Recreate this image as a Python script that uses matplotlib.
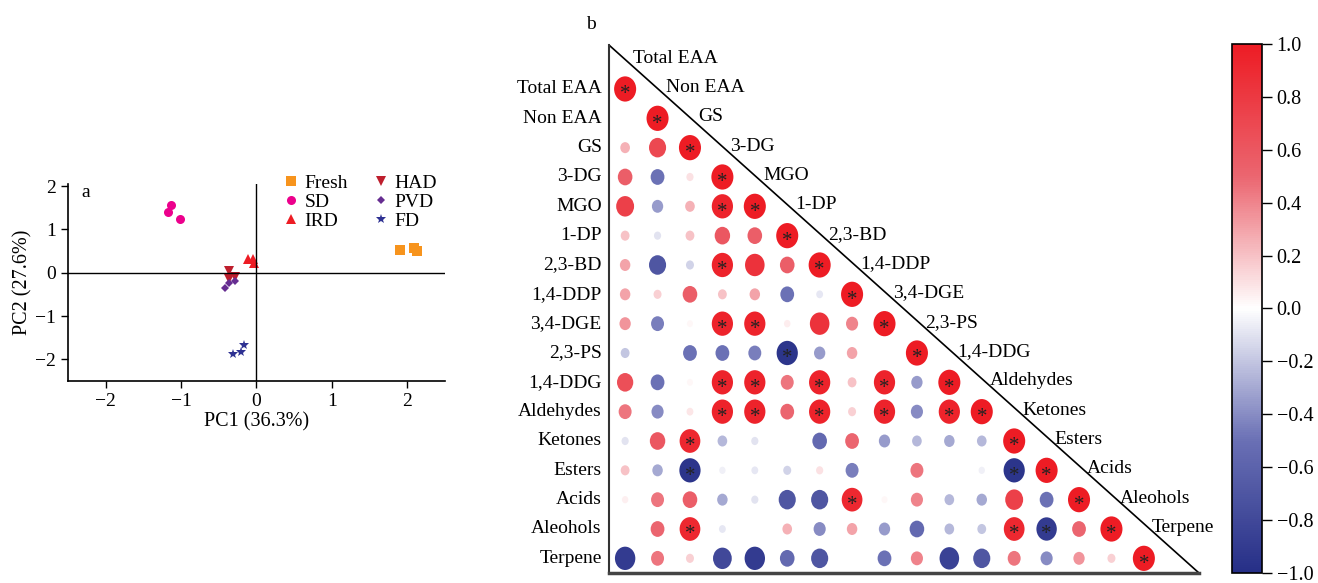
import matplotlib
matplotlib.use("Agg")
import matplotlib.pyplot as plt
from matplotlib.patches import Ellipse
from matplotlib.colors import LinearSegmentedColormap, Normalize
import matplotlib.colorbar as mcolorbar
from matplotlib.ticker import FuncFormatter

plt.rcParams['font.family'] = ['Liberation Serif', 'DejaVu Serif']
plt.rcParams['font.size'] = 14

# ---- panel a: PCA scores ----
groups = ['Fresh', 'SD', 'IRD', 'HAD', 'PVD', 'FD']
pc1 = {
    'Fresh': [1.91, 2.09, 2.13],
    'SD': [-1.18, -1.13, -1.02],
    'IRD': [-0.11, -0.04, -0.03],
    'HAD': [-0.36, -0.37, -0.28],
    'PVD': [-0.42, -0.37, -0.29],
    'FD': [-0.31, -0.21, -0.16],
}
pc2 = {
    'Fresh': [0.52, 0.56, 0.51],
    'SD': [1.41, 1.56, 1.25],
    'IRD': [0.31, 0.32, 0.22],
    'HAD': [0.04, -0.14, -0.09],
    'PVD': [-0.36, -0.23, -0.20],
    'FD': [-1.88, -1.82, -1.67],
}
markers = {'Fresh': 's', 'SD': 'o', 'IRD': '^', 'HAD': 'v', 'PVD': 'D', 'FD': '*'}
colors = {'Fresh': '#F7941D', 'SD': '#EC008C', 'IRD': '#ED1C24',
          'HAD': '#BE1E2D', 'PVD': '#662D91', 'FD': '#2E3192'}
msize = {'Fresh': 6.5, 'SD': 6.5, 'IRD': 6.5, 'HAD': 6.5, 'PVD': 4.5, 'FD': 7}

# ---- panel b: correlation matrix (lower triangle, row by row) ----
names = ['Total EAA', 'Non EAA', 'GS', '3-DG', 'MGO', '1-DP', '2,3-BD', '1,4-DDP',
         '3,4-DGE', '2,3-PS', '1,4-DDG', 'Aldehydes', 'Ketones', 'Esters', 'Acids',
         'Aleohols', 'Terpene']
corr = [
    [1.0],
    [0.0, 1.0],
    [0.25, 0.70, 1.0],
    [0.55, -0.50, 0.10, 1.0],
    [0.75, -0.35, 0.25, 0.95, 1.0],
    [0.20, -0.10, 0.20, 0.60, 0.55, 1.0],
    [0.30, -0.70, -0.15, 0.95, 0.85, 0.55, 1.0],
    [0.30, 0.15, 0.55, 0.20, 0.30, -0.50, -0.08, 1.0],
    [0.35, -0.45, 0.03, 0.95, 0.95, 0.06, 0.85, 0.40, 1.0],
    [-0.20, 0.0, -0.50, -0.50, -0.45, -0.95, -0.35, 0.30, 0.0, 1.0],
    [0.65, -0.50, 0.03, 0.95, 0.95, 0.45, 0.95, 0.20, 0.95, -0.35, 1.0],
    [0.45, -0.40, 0.08, 0.95, 0.95, 0.50, 0.95, 0.15, 0.95, -0.40, 0.95, 1.0],
    [-0.10, 0.60, 0.92, -0.25, -0.10, 0.0, -0.55, 0.50, -0.35, -0.25, -0.30, -0.25, 1.0],
    [0.20, -0.30, -0.95, -0.05, -0.08, -0.15, 0.10, -0.45, 0.0, 0.45, 0.0, -0.05, -0.95, 1.0],
    [0.05, 0.45, 0.55, -0.30, -0.10, -0.70, -0.70, 0.92, 0.03, 0.40, -0.25, -0.30, 0.75, -0.50, 1.0],
    [0.0, 0.50, 0.92, -0.08, 0.0, 0.25, -0.40, 0.30, -0.35, -0.55, -0.25, -0.20, 0.92, -0.90, 0.50, 1.0],
    [-0.90, 0.45, 0.15, -0.80, -0.90, -0.55, -0.70, 0.0, -0.50, 0.40, -0.85, -0.70, 0.45, -0.40, 0.35, 0.15, 1.0],
]
# significant pairs (row, col), 0-based, besides the diagonal
signif = [(4, 3), (6, 3), (8, 3), (8, 4), (9, 5),
          (10, 3), (10, 4), (10, 6), (10, 8),
          (11, 3), (11, 4), (11, 6), (11, 8), (11, 10),
          (12, 2), (13, 2), (13, 12), (14, 7), (15, 2), (15, 12), (15, 13)]
cbar_ticks = [-1.0, -0.8, -0.6, -0.4, -0.2, 0.0, 0.2, 0.4, 0.6, 0.8, 1.0]

cmap = LinearSegmentedColormap.from_list(
    'bwr_corr', ['#262F87', '#6A70B5', '#FFFFFF', '#EB6670', '#ED1C24'], N=256)
norm = Normalize(-1, 1)

fig = plt.figure(figsize=(13.18, 5.83), dpi=100)

# ---------------- panel a ----------------
ax = fig.add_axes([0.0516, 0.3465, 0.286, 0.338])
for g in groups:
    ax.plot(pc1[g], pc2[g], linestyle='none', marker=markers[g], color=colors[g],
            markersize=msize[g], markeredgewidth=0, label=g)
ax.axhline(0, color='black', lw=1)
ax.axvline(0, color='black', lw=1)
ax.set_xlim(-2.5, 2.5)
ax.set_ylim(-2.5, 2.05)
ax.set_xticks([-2, -1, 0, 1, 2])
ax.set_yticks([-2, -1, 0, 1, 2])
ax.spines['top'].set_visible(False)
ax.spines['right'].set_visible(False)
ax.spines['left'].set_linewidth(1.2)
ax.spines['bottom'].set_linewidth(1.2)
ax.tick_params(direction='out', length=5, width=1, labelsize=14)
ax.set_xlabel('PC1 (36.3%)', fontsize=14.5, labelpad=2)
ax.set_ylabel('PC2 (27.6%)', fontsize=14.5, labelpad=2)
ax.text(0.035, 1.0, 'a', transform=ax.transAxes, fontsize=14, va='top')
ax.legend(ncol=2, frameon=False, loc='upper left', bbox_to_anchor=(0.55, 1.09),
          fontsize=14, handlelength=0.8, handletextpad=0.3, columnspacing=1.3,
          labelspacing=0.08, borderaxespad=0)

# ---------------- panel b ----------------
bx = fig.add_axes([0.462, 0.01715, 0.4477, 0.9057])
bx.set_xlim(-0.5, 17.7)
bx.set_ylim(16.5, -1.5)
for i, row in enumerate(corr):
    for j, r in enumerate(row):
        if r == 0:
            continue
        s = 0.25 + 0.75 * abs(r)
        bx.add_patch(Ellipse((j, i), 0.68 * s, 0.86 * s, facecolor=cmap(norm(r)),
                             edgecolor='none'))
        if i == j or (i, j) in signif:
            bx.text(j, i + 0.2, '*', ha='center', va='center', fontsize=15,
                    color='#222222')
bx.plot([-0.5, 17.7], [-1.5, 16.5], color='black', lw=1.2)
for k, nm in enumerate(names):
    bx.text(-0.72, k, nm, ha='right', va='center', fontsize=14)
    bx.text(k + 0.25, k - 1.05, nm, ha='left', va='center', fontsize=14)
bx.set_xticks([])
bx.set_yticks([])
bx.spines['top'].set_visible(False)
bx.spines['right'].set_visible(False)
bx.spines['left'].set_linewidth(1.5)
bx.spines['left'].set_color('#333333')
bx.spines['bottom'].set_linewidth(2.5)
bx.spines['bottom'].set_color('#444444')
bx.text(-1.2, -1.9, 'b', fontsize=14, ha='left', va='bottom')

# colorbar
cax = fig.add_axes([0.9347, 0.01715, 0.02276, 0.9074])
cb = mcolorbar.ColorbarBase(cax, cmap=cmap, norm=norm, orientation='vertical')
cb.set_ticks(cbar_ticks)
cb.ax.yaxis.set_major_formatter(FuncFormatter(lambda v, p: f'{v:.1f}'.replace('-', '\u2212')))
cb.ax.tick_params(labelsize=14.5, length=7, width=1)
cb.outline.set_linewidth(1.2)

fig.savefig('out.png', dpi=100)
